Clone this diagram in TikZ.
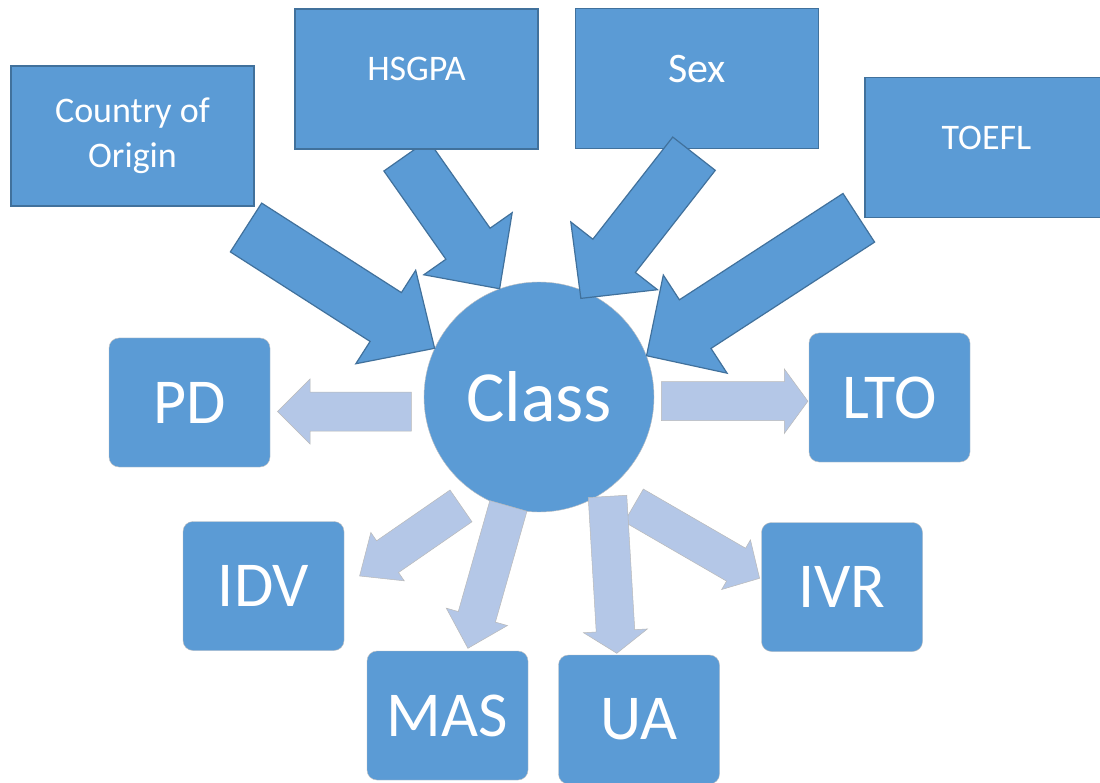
\documentclass[tikz,border=0pt]{standalone}
\usepackage{fontspec}
\setmainfont{Carlito}
\usetikzlibrary{calc}
\definecolor{mblue}{HTML}{5B9BD5}
\definecolor{dblue}{HTML}{41719C}
\definecolor{lblue}{HTML}{B4C7E7}
\definecolor{lgrey}{HTML}{BFBFBF}
\tikzset{topbox/.style = {draw=dblue, fill=mblue, line width=1.2pt, minimum width=243pt,
                          minimum height=140pt, text=white, align=center,
                          font=\fontsize{36}{45}\selectfont}}
\tikzset{onetop/.style = {text height=23pt, text depth=19pt}}
\tikzset{dimbox/.style = {draw=lgrey, fill=mblue, rounded corners=10pt, minimum width=161pt,
                          minimum height=129pt, text=white, font=\fontsize{64}{64}\selectfont}}
\tikzset{classnode/.style = {circle, draw=lgrey, fill=mblue, minimum size=230pt, inner sep=0,
                             text=white, font=\fontsize{72}{72}\selectfont}}
% fat block arrow: half shaft, half head, head length
\tikzset{fat/.style n args = {3}{to path = {
    let \p1 = (\tikztostart), \p2 = (\tikztotarget),
        \n1 = {atan2(\y2-\y1, \x2-\x1)},
        \n2 = {veclen(\x2-\x1, \y2-\y1)} in
    ($(\p1) + (\n1+90:#1)$) -- ($(\p1) + (\n1:\n2-#3) + (\n1+90:#1)$)
    -- ($(\p1) + (\n1:\n2-#3) + (\n1+90:#2)$) -- (\p2)
    -- ($(\p1) + (\n1:\n2-#3) + (\n1-90:#2)$) -- ($(\p1) + (\n1:\n2-#3) + (\n1-90:#1)$)
    -- ($(\p1) + (\n1-90:#1)$) -- cycle}}}
\tikzset{inarrow/.style = {draw=dblue, fill=mblue, line width=1.2pt}}
\tikzset{outarrow/.style = {draw=gray!55, fill=lblue, line width=0.5pt}}

\begin{document}
\begin{tikzpicture}[x=1pt, y=-1pt]
    \fill [white] (0, 0) rectangle (1100, 783);
    \clip (0, 0) rectangle (1100, 783);

    \node [classnode] (class) at (539, 397) {Class};

    \node [dimbox] (pd)  at (189.5, 402.5) {PD};
    \node [dimbox] (lto) at (889.5, 397.5) {LTO};
    \node [dimbox] (idv) at (263.5, 586) {IDV};
    \node [dimbox] (ivr) at (842, 587) {IVR};
    \node [dimbox] (mas) at (447.5, 715.5) {MAS};
    \node [dimbox] (ua)  at (639, 719.5) {UA};

    \coordinate (hsgpa-out) at (406, 155.5);
    \draw [inarrow, fat={27pt}{54pt}{55pt}] (hsgpa-out) to (class.110);

    \node [topbox] (country) at (132.5, 136) {Country of\\Origin};
    \node [topbox, onetop] (hsgpa) at (416.5, 79) {HSGPA};
    \node [topbox, onetop, text depth=14pt, font=\fontsize{42}{45}\selectfont] (sex) at (697, 78.5) {Sex};
    \node [topbox, onetop] (toefl) at (986.5, 147.5) {TOEFL};

    \coordinate (country-out) at (246, 227.5);
    \coordinate (sex-out) at (694, 153.7);
    \coordinate (sex-in) at ($(class.center)!0.93!(class.67)$);
    \coordinate (toefl-out) at (858.8, 217.8);
    \draw [inarrow, fat={29pt}{55.5pt}{58pt}] (country-out) to (class.155);
    \draw [inarrow, fat={27pt}{55pt}{54pt}] (sex-out) to (sex-in);
    \draw [inarrow, fat={29pt}{58.5pt}{58pt}] (toefl-out) to (class.21);

    \coordinate (pd-in)   at (277.5, 411.5);
    \coordinate (pd-out)  at (411.4, 411.5);
    \coordinate (lto-out) at (661.4, 401.2);
    \coordinate (lto-in)  at (807.9, 401.2);
    \coordinate (idv-out) at (461, 505.9);
    \coordinate (idv-in)  at (359.6, 576);
    \coordinate (mas-out) at (508.4, 505.9);
    \coordinate (mas-in)  at (467.9, 648.3);
    \coordinate (ua-out)  at (607.5, 496.4);
    \coordinate (ua-in)   at (616.8, 653.3);
    \coordinate (ivr-out) at (633.8, 505.5);
    \coordinate (ivr-in)  at (759.6, 578.3);
    \draw [outarrow, fat={19.5pt}{32.5pt}{32.5pt}] (pd-out) to (pd-in);
    \draw [outarrow, fat={19.5pt}{32.3pt}{23.6pt}] (lto-out) to (lto-in);
    \draw [outarrow, fat={19.3pt}{29.4pt}{34pt}] (idv-out) to (idv-in);
    \draw [outarrow, fat={19.3pt}{31.8pt}{32.7pt}] (mas-out) to (mas-in);
    \draw [outarrow, fat={19pt}{28.7pt}{27.2pt}] (ivr-out) to (ivr-in);
    \draw [outarrow, fat={19.3pt}{32pt}{22.5pt}] (ua-out) to (ua-in);
\end{tikzpicture}
\end{document}
